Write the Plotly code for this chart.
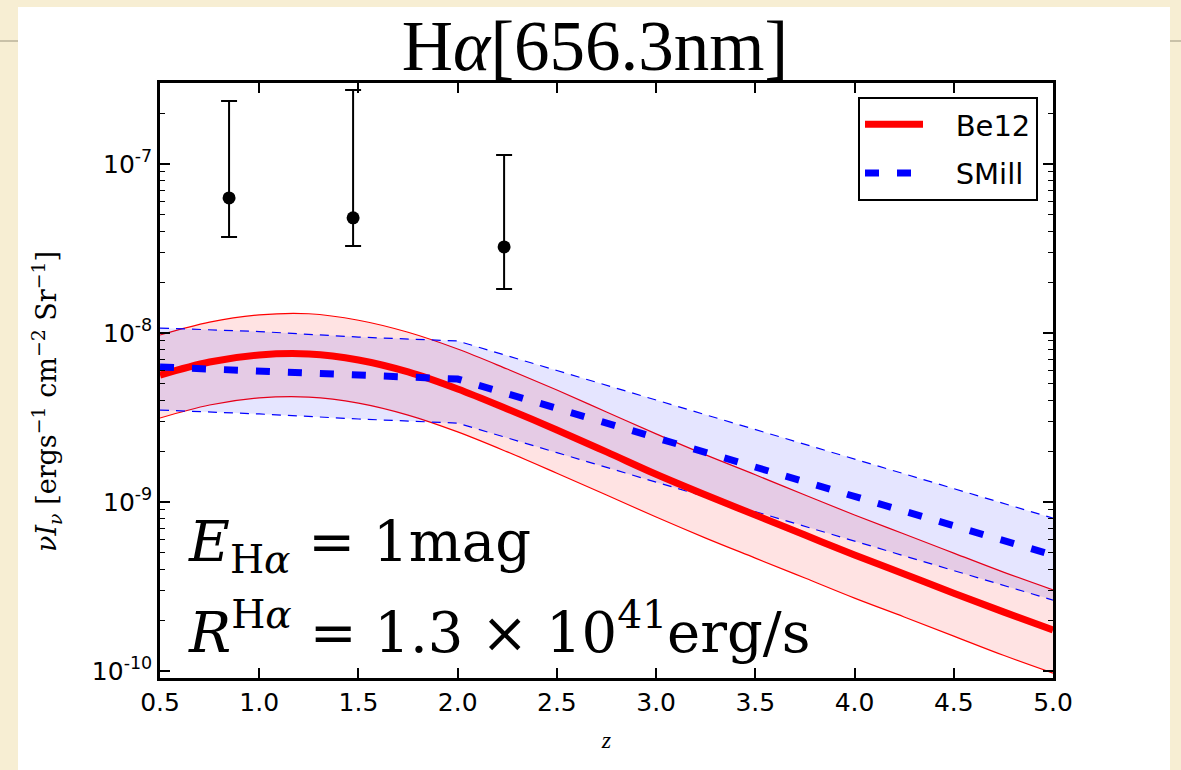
import plotly.graph_objects as go

# ---- data -------------------------------------------------------------
# Be12 model (red): central curve and its uncertainty envelope
z_be12 = [0.5, 0.75, 1.0, 1.25, 1.5, 1.75, 2.0, 2.25, 2.5, 2.75,
          3.0, 3.25, 3.5, 3.75, 4.0, 4.25, 4.5, 4.75, 5.0]
be12_mid = [5.64e-9, 6.74e-9, 7.41e-9, 7.51e-9, 6.92e-9, 5.88e-9, 4.66e-9, 3.55e-9, 2.67e-9, 1.98e-9,
            1.46e-9, 1.10e-9, 8.38e-10, 6.38e-10, 4.86e-10, 3.75e-10, 2.89e-10, 2.24e-10, 1.75e-10]
be12_hi = [9.73e-9, 1.16e-8, 1.28e-8, 1.30e-8, 1.19e-8, 1.01e-8, 8.04e-9, 6.12e-9, 4.60e-9, 3.41e-9,
           2.53e-9, 1.90e-9, 1.45e-9, 1.10e-9, 8.38e-10, 6.47e-10, 4.99e-10, 3.85e-10, 3.02e-10]
be12_lo = [3.14e-9, 3.75e-9, 4.13e-9, 4.18e-9, 3.85e-9, 3.27e-9, 2.60e-9, 1.98e-9, 1.48e-9, 1.10e-9,
           8.15e-10, 6.12e-10, 4.66e-10, 3.55e-10, 2.70e-10, 2.09e-10, 1.61e-10, 1.24e-10, 9.73e-11]

# SMill model (blue): central curve and envelope
z_smill = [0.5, 1.0, 1.5, 2.0, 2.5, 3.0, 3.5, 4.0, 4.5, 5.0]
smill_mid = [6.29e-9, 5.96e-9, 5.64e-9, 5.34e-9, 3.58e-9, 2.40e-9, 1.61e-9, 1.08e-9, 7.24e-10, 4.85e-10]
smill_hi = [1.07e-8, 1.02e-8, 9.46e-9, 8.97e-9, 6.00e-9, 4.02e-9, 2.69e-9, 1.80e-9, 1.20e-9, 8.03e-10]
smill_lo = [3.50e-9, 3.32e-9, 3.10e-9, 2.93e-9, 1.96e-9, 1.31e-9, 8.78e-10, 5.87e-10, 3.93e-10, 2.63e-10]

# observational points with asymmetric error bars
z_obs = [0.848, 1.473, 2.234]
obs_val = [6.3e-8, 4.8e-8, 3.23e-8]
obs_hi = [2.36e-7, 2.74e-7, 1.13e-7]
obs_lo = [3.7e-8, 3.27e-8, 1.82e-8]

x_ticks = [0.5, 1.0, 1.5, 2.0, 2.5, 3.0, 3.5, 4.0, 4.5, 5.0]
y_major = [1e-10, 1e-9, 1e-8, 1e-7]
y_major_text = ["10<sup>-10</sup>", "10<sup>-9</sup>", "10<sup>-8</sup>", "10<sup>-7</sup>"]
y_minor = [m * 10.0 ** e for e in range(-11, -6) for m in range(2, 10)]

# ---- figure -----------------------------------------------------------
W, H = 1181, 770
L, R, T, B = 160, 128, 83, 92
pw, ph = W - L - R, H - T - B

def px(x):
    return (x - L) / pw

def py(y):
    return (H - B - y) / ph

RED_FILL = "rgba(255,0,0,0.11)"
BLUE_FILL = "rgba(0,0,255,0.10)"
PAD = "\u00a0\u00a0\u00a0"  # gap between legend key and label

fig = go.Figure()

# red envelope
fig.add_trace(go.Scatter(x=z_be12, y=be12_lo, mode="lines", line=dict(color="red", width=1.2, shape="spline"),
                         showlegend=False, hoverinfo="skip"))
fig.add_trace(go.Scatter(x=z_be12, y=be12_hi, mode="lines", line=dict(color="red", width=1.2, shape="spline"),
                         fill="tonexty", fillcolor=RED_FILL, showlegend=False, hoverinfo="skip"))
# blue envelope
fig.add_trace(go.Scatter(x=z_smill, y=smill_lo, mode="lines",
                         line=dict(color="blue", width=1.2, dash="9px,7px"),
                         showlegend=False, hoverinfo="skip"))
fig.add_trace(go.Scatter(x=z_smill, y=smill_hi, mode="lines",
                         line=dict(color="blue", width=1.2, dash="9px,7px"),
                         fill="tonexty", fillcolor=BLUE_FILL, showlegend=False, hoverinfo="skip"))

# central curves
fig.add_trace(go.Scatter(x=z_be12, y=be12_mid, mode="lines", name=PAD + "Be12", legendgroup="a",
                         line=dict(color="red", width=7, shape="spline")))
fig.add_trace(go.Scatter(x=z_smill, y=smill_mid, mode="lines", name=PAD + "SMill", legendgroup="b",
                         line=dict(color="blue", width=7, dash="14px,18px")))

# measurements
fig.add_trace(go.Scatter(
    x=z_obs, y=obs_val, mode="markers", showlegend=False,
    marker=dict(color="black", size=13),
    error_y=dict(type="data", symmetric=False,
                 array=[h - v for h, v in zip(obs_hi, obs_val)],
                 arrayminus=[v - l for v, l in zip(obs_val, obs_lo)],
                 color="black", thickness=2, width=8),
))

serif = "Liberation Serif"
wide_serif = "DejaVu Serif"
sans = "DejaVu Sans"

fig.update_layout(
    width=W, height=H,
    margin=dict(l=L, r=R, t=T, b=B),
    paper_bgcolor="#F7EED3",
    plot_bgcolor="white",
    title=dict(text="H<i>α</i>[656.3nm]", x=595 / W, xanchor="center", xref="container",
               y=1 - 45 / H, yanchor="middle", yref="container",
               font=dict(family=serif, size=71, color="black")),
    legend=dict(x=px(1038), y=py(97), xanchor="right", yanchor="top",
                bgcolor="white", bordercolor="black", borderwidth=2,
                font=dict(family=sans, size=29, color="black"),
                traceorder="grouped", tracegroupgap=8, itemwidth=58),
    showlegend=True,
)

fig.update_xaxes(
    range=[0.5, 5.0], tickvals=x_ticks, ticktext=[f"{v:.1f}" for v in x_ticks],
    ticks="inside", ticklen=10, tickwidth=1.5, tickcolor="black",
    showline=True, linecolor="black", linewidth=2.5, mirror="allticks",
    showgrid=False, zeroline=False,
    tickfont=dict(family=sans, size=25, color="black"),
    title=dict(text="<i>z</i>", font=dict(family=serif, size=24, color="black"), standoff=16),
)
fig.update_yaxes(
    type="log", range=[-10.041, -6.521],
    tickmode="array", tickvals=y_major, ticktext=y_major_text,
    ticks="inside", ticklen=10, tickwidth=1.5, tickcolor="black",
    minor=dict(tickmode="array", tickvals=y_minor, ticks="inside", ticklen=5, tickwidth=1.2,
               tickcolor="black", showgrid=False),
    showline=True, linecolor="black", linewidth=2.5, mirror="allticks",
    showgrid=False, zeroline=False,
    tickfont=dict(family=sans, size=25, color="black"),
)

# y-axis label, placed as a rotated annotation
fig.add_annotation(xref="paper", yref="paper", x=px(46), y=py(402), xanchor="center", yanchor="middle",
                   textangle=-90, showarrow=False,
                   text="<i>νI<sub>ν</sub></i> [ergs<sup>−1</sup> cm<sup>−2</sup> Sr<sup>−1</sup>]",
                   font=dict(family=wide_serif, size=27, color="black"))

# white page behind the chart and thin rule in the margins
fig.add_shape(type="rect", xref="paper", yref="paper", layer="below",
              x0=px(18), x1=px(1170), y0=py(770), y1=py(7),
              fillcolor="white", line=dict(width=0))
for xa, xb in [(0, 18), (1170, 1181)]:
    fig.add_shape(type="line", xref="paper", yref="paper", layer="below",
                  x0=px(xa), x1=px(xb), y0=py(41), y1=py(41),
                  line=dict(color="#C9C1A8", width=2))

# in-plot labels
fig.add_annotation(xref="paper", yref="paper", x=px(186), y=py(545), xanchor="left", yanchor="middle",
                   text="<i>E</i><sub>H<i>α</i></sub> = 1mag", showarrow=False,
                   font=dict(family=wide_serif, size=56, color="black"))
fig.add_annotation(xref="paper", yref="paper", x=px(186), y=py(628), xanchor="left", yanchor="middle",
                   text="<i>R</i><sup>H<i>α</i></sup> = 1.3 × 10<sup>41</sup>erg/s", showarrow=False,
                   font=dict(family=wide_serif, size=56, color="black"))

fig.write_html("out.html")
